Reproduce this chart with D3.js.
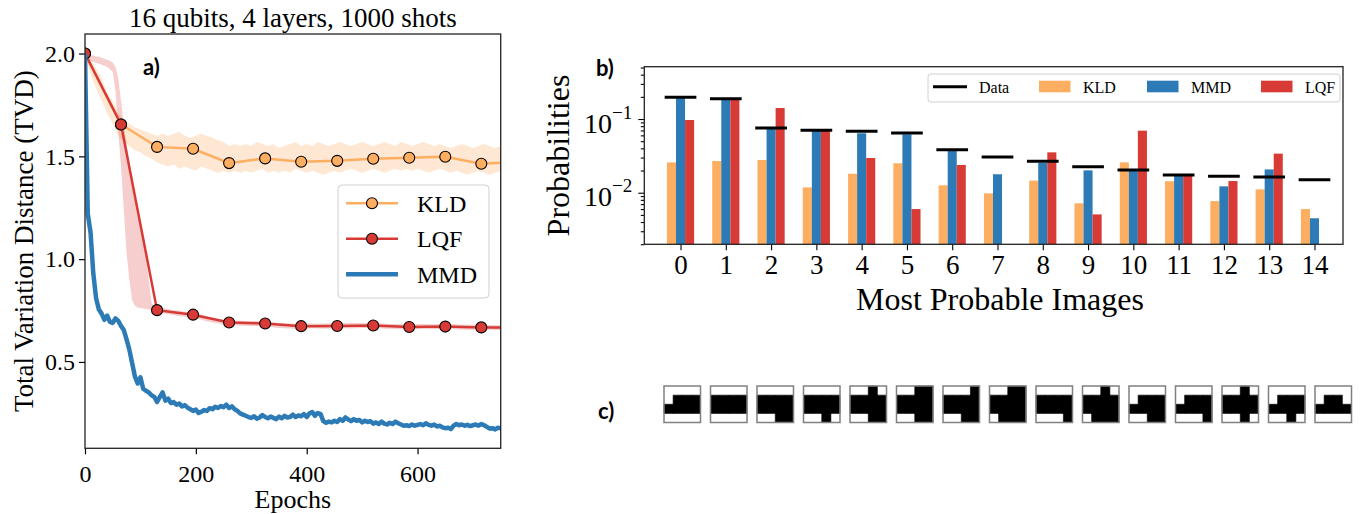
<!DOCTYPE html>
<html>
<head>
<meta charset="utf-8">
<script src="https://cdn.jsdelivr.net/npm/d3@7"></script>
<style>
body { margin: 0; background: #fff; }
svg text { font-family: "Liberation Serif", "Times New Roman", serif; fill: #000; }
svg text.tag { font-family: Lato, "Open Sans", sans-serif; font-weight: 700; }
</style>
</head>
<body>
<svg id="fig" width="1366" height="514"></svg>
<script>
// ---------- data: panel a ----------
const markEpochs = [0, 65, 130, 195, 260, 325, 390, 455, 520, 585, 650, 715, 750];
const kldMean = [2.0, 1.655, 1.546, 1.537, 1.467, 1.49, 1.474, 1.478, 1.488, 1.493, 1.498, 1.464, 1.469];
const lqfMean = [2.0, 1.655, 0.752, 0.730, 0.692, 0.687, 0.674, 0.675, 0.677, 0.670, 0.672, 0.668, 0.667];

const mmdEpochs = d3.range(0, 751, 5);
const mmdValues = [
  2.00,1.22,1.13,0.93,0.81,0.755,0.735,0.705,0.725,0.695,
  0.690,0.712,0.700,0.675,0.655,0.610,0.560,0.495,0.430,0.395,
  0.425,0.370,0.360,0.352,0.338,0.330,0.305,0.330,0.352,0.312,
  0.322,0.300,0.305,0.292,0.298,0.283,0.290,0.278,0.270,0.262,
  0.268,0.252,0.258,0.266,0.262,0.275,0.270,0.282,0.276,0.286,
  0.280,0.292,0.276,0.284,0.270,0.262,0.250,0.244,0.238,0.232,
  0.228,0.236,0.224,0.230,0.242,0.232,0.226,0.234,0.228,0.222,
  0.234,0.226,0.238,0.230,0.232,0.244,0.232,0.240,0.236,0.246,
  0.232,0.250,0.256,0.238,0.252,0.246,0.212,0.204,0.210,0.206,
  0.214,0.208,0.222,0.214,0.230,0.220,0.212,0.222,0.214,0.218,
  0.206,0.214,0.208,0.212,0.200,0.206,0.198,0.210,0.200,0.196,
  0.204,0.198,0.210,0.202,0.196,0.190,0.192,0.188,0.196,0.190,
  0.194,0.198,0.192,0.202,0.194,0.190,0.196,0.186,0.190,0.182,
  0.178,0.180,0.174,0.190,0.198,0.192,0.196,0.190,0.194,0.188,
  0.192,0.196,0.190,0.198,0.192,0.184,0.176,0.178,0.172,0.180,
  0.178
];

const kldBandEpochs = d3.range(0, 751, 10);
const kldLow = [
  1.99,1.90,1.83,1.77,1.71,1.66,1.60,1.57,1.55,1.53,
  1.52,1.50,1.49,1.47,1.46,1.45,1.46,1.44,1.45,1.44,
  1.43,1.45,1.44,1.43,1.42,1.43,1.42,1.43,1.42,1.43,
  1.42,1.43,1.44,1.42,1.43,1.42,1.43,1.42,1.44,1.43,
  1.42,1.43,1.42,1.41,1.42,1.43,1.42,1.43,1.44,1.43,
  1.42,1.43,1.44,1.43,1.42,1.43,1.44,1.43,1.44,1.43,
  1.44,1.43,1.42,1.43,1.44,1.43,1.42,1.43,1.42,1.41,
  1.42,1.43,1.42,1.41,1.42,1.43
];
const kldHigh = [
  2.00,1.97,1.93,1.88,1.81,1.77,1.71,1.68,1.66,1.64,
  1.63,1.62,1.61,1.60,1.61,1.60,1.61,1.62,1.60,1.59,
  1.60,1.61,1.60,1.59,1.58,1.57,1.55,1.56,1.55,1.56,
  1.55,1.57,1.56,1.55,1.56,1.54,1.55,1.56,1.57,1.55,
  1.56,1.55,1.57,1.56,1.55,1.56,1.57,1.56,1.55,1.56,
  1.57,1.56,1.55,1.56,1.57,1.56,1.55,1.57,1.56,1.55,
  1.56,1.57,1.56,1.55,1.56,1.55,1.54,1.55,1.56,1.55,
  1.54,1.55,1.56,1.55,1.54,1.55
];

const lqfBandEpochs = d3.range(0, 130, 5).concat(d3.range(130, 751, 10));
const lqfLow = [
  1.99,1.975,1.965,1.96,1.955,1.95,1.945,1.94,1.935,1.925,
  1.91,1.82,1.62,1.45,1.24,1.03,0.90,0.80,0.775,0.765,
  0.762,0.760,0.758,0.755,0.752,0.750,
  0.742,0.738,0.732,0.728,0.722,0.720,0.716,0.712,0.705,0.698,
  0.692,0.688,0.682,0.680,0.678,0.676,0.676,0.674,0.675,0.674,
  0.672,0.668,0.665,0.664,0.663,0.662,0.662,0.663,0.664,0.663,
  0.662,0.663,0.664,0.665,0.664,0.663,0.664,0.665,0.665,0.666,
  0.664,0.662,0.661,0.660,0.659,0.658,0.659,0.660,0.661,0.660,
  0.659,0.660,0.661,0.660,0.659,0.658,0.657,0.658,0.657,0.656,
  0.656,0.655,0.655
];
const lqfHigh = [
  2.00,1.995,1.99,1.99,1.985,1.985,1.98,1.975,1.97,1.965,
  1.955,1.935,1.88,1.77,1.65,1.56,1.47,1.40,1.32,1.24,
  1.16,1.08,1.01,0.90,0.79,0.770,
  0.768,0.762,0.758,0.752,0.748,0.745,0.740,0.738,0.730,0.722,
  0.716,0.710,0.706,0.704,0.702,0.700,0.699,0.698,0.699,0.697,
  0.695,0.692,0.690,0.688,0.687,0.686,0.687,0.688,0.687,0.686,
  0.687,0.688,0.689,0.688,0.689,0.690,0.689,0.688,0.689,0.690,
  0.688,0.686,0.685,0.684,0.683,0.684,0.683,0.684,0.685,0.684,
  0.683,0.684,0.685,0.684,0.683,0.682,0.681,0.682,0.681,0.680,
  0.680,0.679,0.679
];

const tvdTicks = [0.5, 1.0, 1.5, 2.0];
const epochTicks = [0, 200, 400, 600];

// ---------- data: panel b ----------
const imageLabels = ["0","1","2","3","4","5","6","7","8","9","10","11","12","13","14"];
const dataProb = [0.197,0.188,0.0755,0.0703,0.068,0.0646,0.0384,0.0305,0.0267,0.0225,0.0203,0.0174,0.0167,0.0163,0.0150];
const kldProb  = [0.0258,0.0269,0.0278,0.0118,0.0181,0.0251,0.0126,0.0098,0.0146,0.00718,0.0258,0.0143,0.0077,0.0111,0.0060];
const mmdProb  = [0.192,0.185,0.075,0.069,0.064,0.062,0.0368,0.0178,0.0255,0.0201,0.0199,0.0169,0.0122,0.0207,0.0045];
const lqfProb  = [0.097,0.185,0.141,0.069,0.0296,0.0060,0.0238,null,0.0353,0.00508,0.0695,0.0169,0.0144,0.0339,null];

// ---------- data: panel c (4x4 images, rows top to bottom) ----------
const imagePixels = [
  ["0000","0111","1111","0000"],
  ["0000","1111","1111","0000"],
  ["0000","1111","1111","0011"],
  ["0000","1111","1111","0010"],
  ["0010","1111","1111","0011"],
  ["0011","1111","1111","0011"],
  ["0001","1111","1111","0011"],
  ["0011","1111","1111","0111"],
  ["0000","1111","1111","0001"],
  ["0010","1111","1111","0111"],
  ["0000","0111","1111","0011"],
  ["0000","0111","1111","0001"],
  ["0010","1111","1111","0010"],
  ["0000","0111","1111","0010"],
  ["0000","0110","1111","0000"]
];

const orange = "#fdae61", blue = "#2c7bb6", red = "#d83b36";
const svg = d3.select("#fig");

// ====================
// panel a
// ====================
const A = { left: 85, top: 34, right: 500.7, bottom: 448.3 };
const xA = d3.scaleLinear().domain([0, 750]).range([A.left, A.right]);
const yA = d3.scaleLinear().domain([0.08, 2.095]).range([A.bottom, A.top]);

svg.append("clipPath").attr("id", "clipA").append("rect")
  .attr("x", A.left).attr("y", A.top)
  .attr("width", A.right - A.left).attr("height", A.bottom - A.top);

const gA = svg.append("g").attr("clip-path", "url(#clipA)");

function bandPath(ep, lo, hi) {
  return d3.area()
    .x((d, i) => xA(ep[i]))
    .y0((d, i) => yA(lo[i]))
    .y1((d, i) => yA(hi[i]))(lo);
}
function linePath(ep, vals) {
  return d3.line().x((d, i) => xA(ep[i])).y(d => yA(d))(vals);
}

gA.append("path").attr("d", bandPath(kldBandEpochs, kldLow, kldHigh))
  .attr("fill", orange).attr("fill-opacity", 0.28);
gA.append("path").attr("d", bandPath(lqfBandEpochs, lqfLow, lqfHigh))
  .attr("fill", red).attr("fill-opacity", 0.25);

gA.append("path").attr("d", linePath(markEpochs, kldMean))
  .attr("fill", "none").attr("stroke", orange).attr("stroke-width", 2.5);
gA.selectAll(".mk").data(kldMean.slice(0, -1)).enter().append("circle")
  .attr("cx", (d, i) => xA(markEpochs[i])).attr("cy", d => yA(d)).attr("r", 5.5)
  .attr("fill", orange).attr("stroke", "#000").attr("stroke-width", 1.1);

gA.append("path").attr("d", linePath(markEpochs, lqfMean))
  .attr("fill", "none").attr("stroke", red).attr("stroke-width", 2.5);
gA.selectAll(".mr").data(lqfMean.slice(0, -1)).enter().append("circle")
  .attr("cx", (d, i) => xA(markEpochs[i])).attr("cy", d => yA(d)).attr("r", 5.5)
  .attr("fill", red).attr("stroke", "#000").attr("stroke-width", 1.1);

gA.append("path").attr("d", linePath(mmdEpochs, mmdValues))
  .attr("fill", "none").attr("stroke", blue).attr("stroke-width", 4.5)
  .attr("stroke-linejoin", "round");

// axes
const axAy = svg.append("g").attr("transform", `translate(${A.left},0)`)
  .call(d3.axisLeft(yA).tickValues(tvdTicks).tickFormat(d3.format(".1f")).tickSize(6).tickPadding(4));
const axAx = svg.append("g").attr("transform", `translate(0,${A.bottom})`)
  .call(d3.axisBottom(xA).tickValues(epochTicks).tickSize(6).tickPadding(11));
[axAy, axAx].forEach(g => {
  g.attr("font-size", 24).attr("font-family", null);
  g.select(".domain").remove();
  g.selectAll("line").attr("stroke-width", 1.2);
});

svg.append("rect").attr("x", A.left).attr("y", A.top)
  .attr("width", A.right - A.left).attr("height", A.bottom - A.top)
  .attr("fill", "none").attr("stroke", "#222").attr("stroke-width", 1.3);

svg.append("text").attr("x", (A.left + A.right) / 2).attr("y", 27)
  .attr("text-anchor", "middle").attr("font-size", 27)
  .text("16 qubits, 4 layers, 1000 shots");
svg.append("text").attr("x", (A.left + A.right) / 2).attr("y", 508)
  .attr("text-anchor", "middle").attr("font-size", 26).text("Epochs");
svg.append("text").attr("transform", `translate(33,${(A.top + A.bottom) / 2}) rotate(-90)`)
  .attr("text-anchor", "middle").attr("font-size", 27)
  .text("Total Variation Distance (TVD)");
svg.append("text").attr("class", "tag").attr("x", 143).attr("y", 75)
  .attr("font-size", 22).text("a)");

// legend a
const legA = svg.append("g");
legA.append("rect").attr("x", 338).attr("y", 185).attr("width", 151).attr("height", 113)
  .attr("rx", 4).attr("fill", "#fff").attr("fill-opacity", 0.85)
  .attr("stroke", "#d0d0d0").attr("stroke-width", 1);
const legItems = [
  { name: "KLD", color: orange, marker: true, w: 2.5 },
  { name: "LQF", color: red, marker: true, w: 2.5 },
  { name: "MMD", color: blue, marker: false, w: 4.5 }
];
legItems.forEach((it, i) => {
  const cy = 203.3 + i * 35.5;
  legA.append("line").attr("x1", 346).attr("x2", 398).attr("y1", cy).attr("y2", cy)
    .attr("stroke", it.color).attr("stroke-width", it.w);
  if (it.marker) {
    legA.append("circle").attr("cx", 372).attr("cy", cy).attr("r", 5.5)
      .attr("fill", it.color).attr("stroke", "#000").attr("stroke-width", 1.1);
  }
  legA.append("text").attr("x", 417).attr("y", cy + 8.5).attr("font-size", 24).text(it.name);
});

// ====================
// panel b
// ====================
const B = { left: 644.3, top: 66.7, right: 1343, bottom: 244.3 };
const xB = d3.scaleLinear().domain([-0.8, 14.63]).range([B.left, B.right]);
const yB = d3.scaleLog().domain([Math.pow(10, -2.70), Math.pow(10, -0.29)]).range([B.bottom, B.top]);
const barW = 0.2;

svg.append("clipPath").attr("id", "clipB").append("rect")
  .attr("x", B.left).attr("y", B.top)
  .attr("width", B.right - B.left).attr("height", B.bottom - B.top);
const gB = svg.append("g").attr("clip-path", "url(#clipB)");

const barSeries = [
  { vals: kldProb, color: orange, off: -barW },
  { vals: mmdProb, color: blue, off: 0 },
  { vals: lqfProb, color: red, off: barW }
];
barSeries.forEach(s => {
  gB.selectAll(null).data(s.vals.map((v, i) => ({ v, i })).filter(d => d.v != null))
    .enter().append("rect")
    .attr("x", d => xB(d.i + s.off - barW / 2))
    .attr("width", xB(barW) - xB(0))
    .attr("y", d => yB(d.v))
    .attr("height", d => B.bottom - yB(d.v))
    .attr("fill", s.color);
});
gB.selectAll(".dl").data(dataProb).enter().append("line")
  .attr("x1", (d, i) => xB(i - 0.35)).attr("x2", (d, i) => xB(i + 0.35))
  .attr("y1", d => yB(d)).attr("y2", d => yB(d))
  .attr("stroke", "#000").attr("stroke-width", 3);

const axBx = svg.append("g").attr("transform", `translate(0,${B.bottom})`)
  .call(d3.axisBottom(xB).tickValues(d3.range(imageLabels.length))
    .tickFormat(i => imageLabels[i]).tickSize(6).tickPadding(5));
axBx.attr("font-size", 27).attr("font-family", null);

const majors = [0.01, 0.1];
const minors = [];
[0.001, 0.01, 0.1].forEach(dec => {
  for (let k = 2; k <= 9; k++) {
    const v = dec * k;
    if (v >= yB.domain()[0] && v <= yB.domain()[1]) minors.push(v);
  }
});
const axByMinor = svg.append("g").attr("transform", `translate(${B.left},0)`)
  .call(d3.axisLeft(yB).tickValues(minors).tickSize(3.5).tickFormat(""));
const axBy = svg.append("g").attr("transform", `translate(${B.left},0)`)
  .call(d3.axisLeft(yB).tickValues(majors).tickSize(6).tickPadding(6).tickFormat(""));
axBy.attr("font-size", 28).attr("font-family", null);
axBy.selectAll(".tick text").each(function (d) {
  const t = d3.select(this).attr("dy", null).attr("y", 13);
  t.append("tspan").text("10");
  t.append("tspan").attr("font-size", 19).attr("dy", -14)
    .text("\u2212" + Math.round(-Math.log10(d)));
});
[axBx, axBy, axByMinor].forEach(g => {
  g.select(".domain").remove();
  g.selectAll("line").attr("stroke-width", 1.1);
});

svg.append("rect").attr("x", B.left).attr("y", B.top)
  .attr("width", B.right - B.left).attr("height", B.bottom - B.top)
  .attr("fill", "none").attr("stroke", "#222").attr("stroke-width", 1.3);

svg.append("text").attr("transform", `translate(569,${(B.top + B.bottom) / 2}) rotate(-90)`)
  .attr("text-anchor", "middle").attr("font-size", 32).text("Probabilities");
svg.append("text").attr("x", 1000).attr("y", 310)
  .attr("text-anchor", "middle").attr("font-size", 32).text("Most Probable Images");
svg.append("text").attr("class", "tag").attr("x", 596).attr("y", 76)
  .attr("font-size", 22).text("b)");

// legend b
const legB = svg.append("g");
legB.append("rect").attr("x", 928).attr("y", 74).attr("width", 412).attr("height", 28)
  .attr("rx", 3).attr("fill", "#fff").attr("fill-opacity", 0.85)
  .attr("stroke", "#d0d0d0").attr("stroke-width", 1);
legB.append("line").attr("x1", 933).attr("x2", 967).attr("y1", 86.7).attr("y2", 86.7)
  .attr("stroke", "#000").attr("stroke-width", 3);
legB.append("text").attr("x", 979).attr("y", 92.5).attr("font-size", 16).text("Data");
const legBPatches = [
  { name: "KLD", color: orange, px: 1039, tx: 1083 },
  { name: "MMD", color: blue, px: 1147, tx: 1191 },
  { name: "LQF", color: red, px: 1261, tx: 1305 }
];
legBPatches.forEach(p => {
  legB.append("rect").attr("x", p.px).attr("y", 80.7).attr("width", 31.5).attr("height", 11.6)
    .attr("fill", p.color);
  legB.append("text").attr("x", p.tx).attr("y", 92.5).attr("font-size", 16).text(p.name);
});

// ====================
// panel c
// ====================
const xC = d3.scaleLinear().domain([0, imagePixels.length - 1]).range([664, 1315]);
const cell = d3.scaleLinear().domain([0, 4]).range([0, 36.5]);
const topC = 386;
imagePixels.forEach((rows, k) => {
  const g = svg.append("g").attr("transform", `translate(${xC(k)},${topC})`);
  // one path per image so neighbouring black cells merge without seams
  let d = "";
  rows.forEach((row, r) => {
    row.split("").forEach((c, col) => {
      if (c === "1") {
        const x0 = cell(col), x1 = cell(col + 1), y0 = cell(r), y1 = cell(r + 1);
        d += `M${x0},${y0}H${x1}V${y1}H${x0}Z`;
      }
    });
  });
  g.append("path").attr("d", d).attr("fill", "#000")
    .attr("stroke", "#000").attr("stroke-width", 0.6);
  g.append("rect").attr("x", 0).attr("y", 0).attr("width", cell(4)).attr("height", cell(4))
    .attr("fill", "none").attr("stroke", "#808080").attr("stroke-width", 1.5);
});
svg.append("text").attr("class", "tag").attr("x", 598).attr("y", 419)
  .attr("font-size", 22).text("c)");
</script>
</body>
</html>
